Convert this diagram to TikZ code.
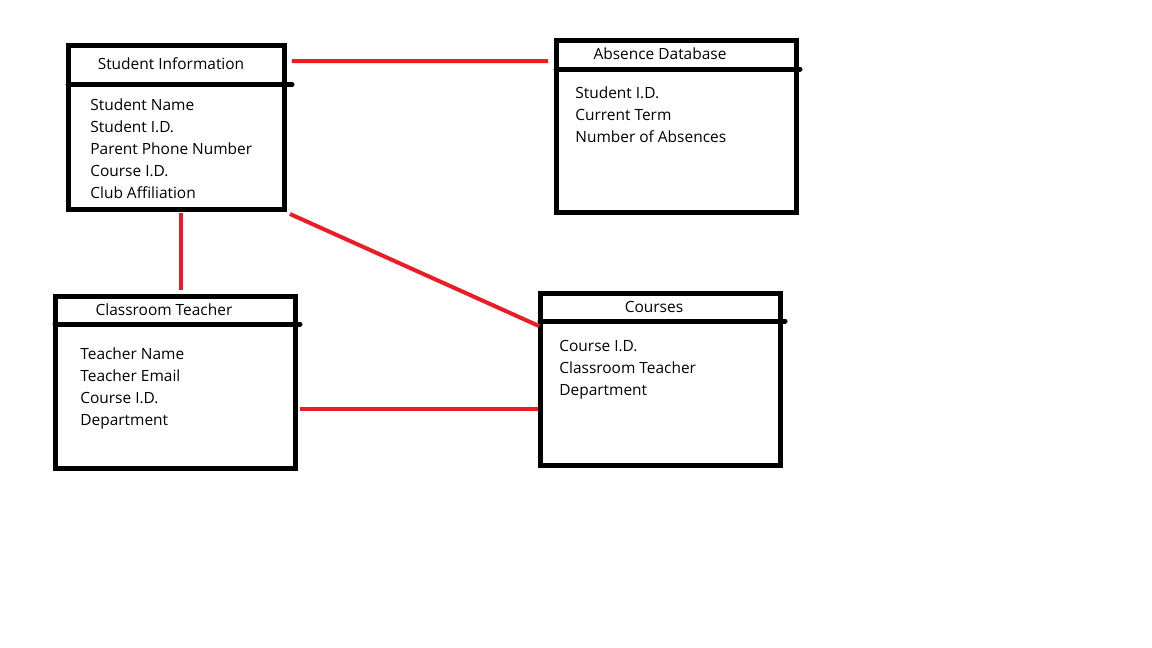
\documentclass[tikz,border=0pt]{standalone}
\usepackage{fontspec}
\setmainfont{Open Sans}
\usetikzlibrary{calc}
\definecolor{paintred}{RGB}{237,28,36}
\tikzset{tablebox/.style={draw, line width=0.1cm, inner sep=0pt, outer sep=0pt},
 divider/.style={line width=0.1cm, line cap=round},
 relation/.style={draw=paintred, line width=0.08cm},
 field/.style={anchor=base west, inner sep=0pt, font=\fontsize{8.8}{11}\selectfont},
 header/.style={anchor=base, inner sep=0pt, font=\fontsize{8.8}{11}\selectfont},
 }

\begin{document}
\begin{tikzpicture}[x=0.02cm, y=-0.02cm]
        \useasboundingbox (0,0) rectangle (1152,648);
        \node[tablebox, minimum width=4.34cm, minimum height=3.3cm] (si) at (176.5,127.5) {};
        \node[tablebox, minimum width=4.82cm, minimum height=3.46cm] (ad) at (676.5,126.5) {};
        \node[tablebox, minimum width=4.82cm, minimum height=3.46cm] (ct) at (175.5,382.5) {};
        \node[tablebox, minimum width=4.82cm, minimum height=3.46cm] (co) at (660.5,379.5) {};
        \draw[divider] ($(si.north west)+(0,39.5)$) -- ++(224,0);
        \draw[divider] ($(ad.north west)+(0,29)$) -- ++(244,0);
        \draw[divider] ($(ct.north west)+(0,28)$) -- ++(245,0);
        \draw[divider] ($(co.north west)+(0,28)$) -- ++(245,0);
        \node[header] (si-head) at (171,69.5) {Student Information};
        \node[header] (ad-head) at (660,59.5) {Absence Database};
        \node[header] (ct-head) at (164,315.5) {Classroom Teacher};
        \node[header] (co-head) at (654,312.5) {Courses};
        \foreach \f[count=\i] in {Student Name, Student I.D., Parent Phone Number, Course I.D., Club Affiliation} {
            \node[field] (si-\i) at (90, 88.5+22*\i) {\f};
        }
        \foreach \f[count=\i] in {Student I.D., Current Term, Number of Absences} {
            \node[field] (ad-\i) at (575, 76.5+22*\i) {\f};
        }
        \foreach \f[count=\i] in {Teacher Name, Teacher Email, Course I.D., Department} {
            \node[field] (ct-\i) at (80, 337.5+22*\i) {\f};
        }
        \foreach \f[count=\i] in {Course I.D., Classroom Teacher, Department} {
            \node[field] (co-\i) at (559, 329.5+22*\i) {\f};
        }
        \draw[relation] ($(si.north east)+(7,16)$) -- ($(ad.north west)+(-8,21)$);
        \draw[relation] ($(si.south)+(4.5,3)$) -- ($(ct.north)+(5.5,-6)$);
        \draw[relation] ($(si.south east)+(5,4)$) -- ($(co.north west)+(-1,33)$);
        \draw[relation] ($(ct.east)+(4,26.5)$) -- ($(co.west)+(-2,29.5)$);
    \end{tikzpicture}
\end{document}
